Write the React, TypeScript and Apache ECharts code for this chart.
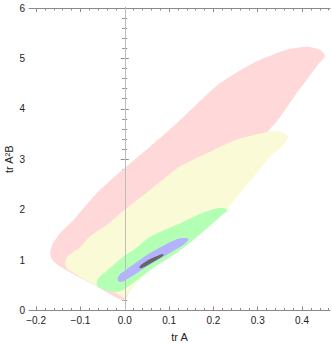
import React, { useEffect, useRef } from "react";
import * as echarts from "echarts";

// x major / minor tick values (tr A)
const xMajorTicks = [-0.2, -0.1, 0, 0.1, 0.2, 0.3, 0.4];
const xMinorTicks = [
  -0.2, -0.18, -0.16, -0.14, -0.12, -0.1, -0.08, -0.06, -0.04, -0.02, 0, 0.02, 0.04, 0.06, 0.08,
  0.1, 0.12, 0.14, 0.16, 0.18, 0.2, 0.22, 0.24, 0.26, 0.28, 0.3, 0.32, 0.34, 0.36, 0.38, 0.4,
  0.42, 0.44, 0.46,
];

// region outlines [tr A, tr A^2 B]
const pinkRegion: [number, number][] = [
  [-0.002, 0.2], [-0.066, 0.49], [-0.134, 0.81], [-0.157, 0.94], [-0.166, 1.04], [-0.168, 1.14],
  [-0.164, 1.3], [-0.145, 1.54], [-0.115, 1.8], [-0.063, 2.33], [0.0, 2.83], [0.057, 3.25],
  [0.118, 3.72], [0.166, 4.12], [0.215, 4.51], [0.29, 4.91], [0.365, 5.17], [0.41, 5.23],
  [0.44, 5.17], [0.452, 5.05], [0.438, 4.9], [0.383, 4.25], [0.343, 3.75], [0.32, 3.52],
  [0.215, 2.0], [0.132, 1.3], [0.057, 0.84], [0.017, 0.48],
];
const yellowRegion: [number, number][] = [
  [-0.001, 0.25], [-0.026, 0.38], [-0.063, 0.48], [-0.127, 0.81], [-0.132, 0.87], [-0.134, 0.94],
  [-0.131, 1.05], [-0.115, 1.17], [-0.105, 1.22], [-0.078, 1.47], [-0.04, 1.7], [0.0, 2.0],
  [0.057, 2.39], [0.125, 2.86], [0.2, 3.18], [0.253, 3.39], [0.327, 3.55], [0.35, 3.55],
  [0.369, 3.45], [0.358, 3.29], [0.328, 3.05], [0.294, 2.69], [0.26, 2.33], [0.233, 2.04],
  [0.208, 1.82], [0.132, 1.26], [0.057, 0.82], [0.015, 0.42],
];
const greenRegion: [number, number][] = [
  [-0.063, 0.575], [-0.057, 0.67], [-0.04, 0.79], [-0.001, 1.085], [0.02, 1.2], [0.057, 1.46],
  [0.125, 1.73], [0.17, 1.92], [0.204, 2.02], [0.224, 2.03], [0.232, 1.99], [0.22, 1.9],
  [0.208, 1.8], [0.132, 1.24], [0.057, 0.8], [-0.01, 0.38], [-0.04, 0.39], [-0.057, 0.45],
  [-0.063, 0.51],
];
const blueRegion: [number, number][] = [
  [-0.016, 0.64], [-0.01, 0.73], [-0.003, 0.77], [0.057, 1.14], [0.118, 1.42], [0.134, 1.44],
  [0.144, 1.42], [0.139, 1.36], [0.132, 1.3], [0.057, 0.91], [-0.003, 0.575], [-0.014, 0.575],
];
const darkRegion: [number, number][] = [
  [0.033, 0.853], [0.037, 0.907], [0.057, 1.02], [0.08, 1.105], [0.086, 1.12], [0.087, 1.09],
  [0.08, 1.045], [0.057, 0.927], [0.037, 0.837],
];

const FONT = "'Liberation Sans', Arial, sans-serif";
const FRAME = "#8a8a8a";

function fmtX(v: number) {
  const s = Math.abs(v).toFixed(1);
  return v < -1e-9 ? "\u2212" + s : s;
}

function polySeries(pts: [number, number][], color: string, z: number, smooth: number) {
  return {
    type: "custom",
    z,
    silent: true,
    clip: true,
    data: pts,
    renderItem: (params: any, api: any) => {
      if (params.dataIndex !== 0) return null;
      const points = pts.map((p) => api.coord(p));
      return {
        type: "polygon",
        shape: { points, smooth },
        style: { fill: color, stroke: null },
      };
    },
  };
}

export default function App() {
  const ref = useRef<HTMLDivElement>(null);
  useEffect(() => {
    if (!ref.current) return;
    const chart = echarts.init(ref.current, null, { renderer: "svg" });
    const xBase = {
      type: "value",
      min: -0.216,
      max: 0.463,
      splitLine: { show: false },
      axisLine: { show: true, lineStyle: { color: FRAME, width: 1 } },
    };
    const yBase = {
      type: "value",
      min: 0,
      max: 6,
      interval: 1,
      splitLine: { show: false },
      axisLine: { show: true, lineStyle: { color: FRAME, width: 1 } },
      axisTick: { show: true, inside: true, length: 4, lineStyle: { color: FRAME } },
      minorTick: { show: true, splitNumber: 5, length: 2.5, lineStyle: { color: FRAME } },
    };
    chart.setOption({
      animation: false,
      backgroundColor: "#fff",
      grid: {
        left: 29,
        top: 8,
        width: 301,
        height: 302.5,
        containLabel: false,
        outerBoundsMode: "none",
      },
      xAxis: [
        {
          ...xBase,
          position: "bottom",
          name: "tr A",
          nameLocation: "middle",
          nameGap: 21,
          nameMoveOverlap: false,
          nameTextStyle: { fontFamily: FONT, fontSize: 11, color: "#222" },
          axisTick: { show: true, inside: true, length: 4, customValues: xMajorTicks, lineStyle: { color: FRAME } },
          axisLabel: {
            show: true,
            customValues: xMajorTicks,
            formatter: (v: number) => fmtX(v),
            fontFamily: FONT,
            fontSize: 10,
            color: "#222",
            margin: 5,
          },
        },
        {
          ...xBase,
          position: "bottom",
          axisLine: { show: false },
          axisTick: { show: true, inside: true, length: 2.5, customValues: xMinorTicks, lineStyle: { color: FRAME } },
          axisLabel: { show: false },
        },
        {
          ...xBase,
          position: "top",
          axisTick: { show: true, inside: true, length: 4, customValues: xMajorTicks, lineStyle: { color: FRAME } },
          axisLabel: { show: false },
        },
        {
          ...xBase,
          position: "top",
          axisLine: { show: false },
          axisTick: { show: true, inside: true, length: 2.5, customValues: xMinorTicks, lineStyle: { color: FRAME } },
          axisLabel: { show: false },
        },
      ],
      yAxis: [
        {
          ...yBase,
          position: "left",
          name: "tr A\u00b2B",
          nameLocation: "middle",
          nameGap: 15,
          nameMoveOverlap: false,
          nameRotate: 90,
          nameTextStyle: { fontFamily: FONT, fontSize: 11, color: "#222" },
          axisLabel: { show: true, fontFamily: FONT, fontSize: 10, color: "#222", margin: 4 },
        },
        {
          ...yBase,
          position: "right",
          axisLabel: { show: false },
        },
      ],
      series: [
        polySeries(pinkRegion, "#ffd9d9", 1, 0.2),
        polySeries(yellowRegion, "#fafad6", 2, 0.2),
        polySeries(greenRegion, "#b3ffb3", 3, 0.3),
        polySeries(blueRegion, "#b3b3ff", 4, 0.3),
        {
          ...polySeries(darkRegion, "#666666", 5, 0.3),
          markLine: {
            silent: true,
            symbol: "none",
            label: { show: false },
            lineStyle: { color: "#bdbdbd", width: 1, type: "solid" },
            data: [{ xAxis: 0 }],
            z: 10,
          },
        },
      ],
    });
    return () => chart.dispose();
  }, []);
  return (
    <div
      ref={ref}
      style={{ position: "fixed", left: 0, top: 0, width: 332, height: 343, background: "#fff" }}
    />
  );
}
